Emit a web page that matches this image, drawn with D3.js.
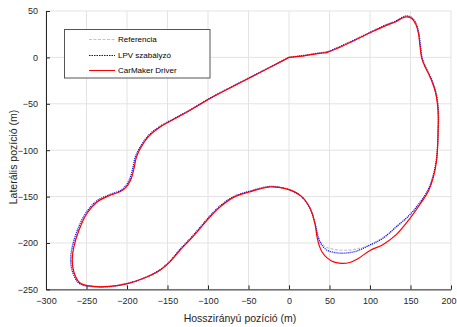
<!DOCTYPE html>
<html><head><meta charset="utf-8">
<script src="https://cdn.jsdelivr.net/npm/d3@7"></script>
<style>body{margin:0;background:#fff;} svg{display:block;font-family:"Liberation Sans",Arial,sans-serif;}</style>
</head><body>
<svg id="c" width="457" height="327"></svg>
<script>
// Data (m)
const xTicks = [-300,-250,-200,-150,-100,-50,0,50,100,150,200];
const yTicks = [50,0,-50,-100,-150,-200,-250];
const seriesNames = ["Referencia","LPV szabályzó","CarMaker Driver"];

const refX = [0,20,38,47,60,80,100,120,132,140,146,152,157,160,161.7,164,168,172,177,181,183.5,184.3,184,183.6,182.3,178.2,172,161.7,149.4,133,116.4,100,83,68,55,45,39,35.5,32,26,15.7,0.4,-11,-23.5,-49,-69,-85,-97.5,-110,-122,-134.6,-147,-159.3,-180,-199.6,-221,-241.6,-258,-266,-268.3,-266.3,-260,-250,-237.4,-221,-208,-202,-196,-192,-189,-184,-174,-159.3,-142.8,-122,-97.5,-79,-50,0];
const refY = [0,2,4.4,5.5,10,18,26.5,34.5,38.5,42.5,44,42,35,25,13,-1,-10,-17,-27,-38,-52,-65,-80,-93,-110,-128,-143,-157,-170,-182.4,-194,-202,-206.5,-207.8,-206.8,-204,-199,-191,-178.8,-162.6,-150,-142.5,-140,-139.3,-144.7,-150.8,-160.8,-171.6,-184.2,-196,-207.5,-220,-229.1,-238,-243.4,-246.5,-246.5,-243,-231,-218,-204,-186,-168,-155.5,-148.3,-144,-140,-132,-120,-108,-98,-85.4,-74.7,-66.7,-56.7,-44,-35.5,-22.5,0];

const lpvX = [0,20,38,47,60,80,100,120,132,140,146,152,157.5,160.5,162.2,164.5,168.5,172.5,177.5,181.5,184,184.6,184.2,183.6,182,177.8,171.5,161,148.8,132.5,116,100,83.6,67,55,46.5,40,36.5,32.5,26,15.7,0.4,-11,-23.5,-49,-69,-85.5,-98,-110.5,-122.5,-135,-147.5,-159.8,-180.5,-200,-221,-242,-259,-267.3,-269.6,-267.6,-261.2,-251,-238,-221.5,-208.5,-202.8,-197,-193,-190,-184.5,-174.5,-159.5,-143,-122,-97.5,-79,-50,0];
const lpvY = [0,2.4,4.9,6,10.6,18.6,27,35.2,39.3,43.3,44.8,42.6,35.2,25,13,-1,-10,-17,-27,-38,-52,-65,-80,-93,-110,-128,-143,-157,-169.8,-182.4,-194.9,-202.2,-208.6,-211,-210,-207.5,-201.5,-195,-180,-163,-150.3,-142.8,-140,-139,-144.2,-150.3,-160.3,-171.2,-183.8,-195.6,-207.2,-220,-229.2,-238.3,-243.8,-247,-247,-243.5,-231,-218,-204,-186,-167.8,-155,-147.8,-143.6,-139.6,-131.6,-120,-108,-97.8,-85,-74.4,-66.4,-56.5,-43.8,-35.3,-22.3,0];

const cmX = [0,20,38,47,60,80,100,120,132,140,146,152,157,160,161.7,164,168,172,177,181,183.5,184.3,184,183.6,182.3,178.4,172.3,162,149.4,133,116.4,100,85,75,65,55,47,41,37,34.5,32,26,15.7,0.4,-11,-23.5,-49,-69,-85,-97.5,-110,-122,-134.6,-147,-159.3,-180,-199.6,-221,-241.6,-258,-265.6,-267.6,-265.6,-259.3,-249.5,-237,-220.6,-207.6,-201.6,-195.6,-191.5,-188.6,-183.6,-173.8,-159.2,-142.7,-122,-97.5,-79,-50,0];
const cmY = [0,2,4.4,5.5,10,18,26.5,34.5,38.5,42.5,43.6,41.6,35,25,13,-1,-10,-17,-27,-38,-52,-65,-80,-93,-110,-128.5,-143.6,-158,-173.4,-190.5,-201.5,-208,-217,-221,-222,-220.3,-216,-210,-202,-193,-178.8,-162.6,-150,-142.5,-140.3,-139.6,-145,-151.1,-161.1,-171.9,-184.5,-196.3,-207.8,-220.3,-229.4,-238.3,-243.8,-246.8,-246.8,-243.2,-231.2,-218.3,-204.2,-186.2,-168.2,-155.8,-148.6,-144.3,-140.3,-132.3,-120.2,-108.2,-98.2,-85.6,-74.9,-66.9,-56.9,-44.2,-35.7,-22.7,0];

const m = {left:46, right:451, top:11, bottom:289.4};
const svg = d3.select("#c");
const x = d3.scaleLinear().domain([-300,200]).range([m.left,m.right]);
const y = d3.scaleLinear().domain([-250,50]).range([m.bottom,m.top]);

// grid
const g = svg.append("g");
g.selectAll(".gx").data(xTicks).enter().append("line")
  .attr("x1",d=>x(d)).attr("x2",d=>x(d)).attr("y1",m.top).attr("y2",m.bottom)
  .attr("stroke","#e3e3e3").attr("stroke-width",1);
g.selectAll(".gy").data(yTicks).enter().append("line")
  .attr("y1",d=>y(d)).attr("y2",d=>y(d)).attr("x1",m.left).attr("x2",m.right)
  .attr("stroke","#e3e3e3").attr("stroke-width",1);

// axes
const xAxis = d3.axisBottom(x).tickValues(xTicks).tickSizeInner(-4).tickSizeOuter(0).tickPadding(8).tickFormat(d3.format("d"));
const yAxis = d3.axisLeft(y).tickValues(yTicks).tickSizeInner(-4).tickSizeOuter(0).tickPadding(8).tickFormat(d3.format("d"));
const ax = svg.append("g").attr("transform",`translate(0,${m.bottom})`).call(xAxis);
const ay = svg.append("g").attr("transform",`translate(${m.left},0)`).call(yAxis);
[ax,ay].forEach(a=>{
  a.select(".domain").attr("stroke","#262626").attr("stroke-width",1);
  a.selectAll(".tick line").attr("stroke","#262626");
  a.selectAll(".tick text").attr("fill","#262626").style("font-size","9px").style("font-family","Liberation Sans, Arial, sans-serif");
});
// keep the last x tick label inside the window
ax.selectAll(".tick text").filter(d=>d===200).attr("dx","-2.5");

// lines
const line = d3.line().x(d=>x(d[0])).y(d=>y(d[1])).curve(d3.curveCatmullRom.alpha(0.5));
const zip = (a,b)=>a.map((v,i)=>[v,b[i]]);
const styles = [
  {c:"#c4c4c4", w:1.2, dash:"3,1.5"},
  {c:"#0000ff", w:1.3, dash:"1,1"},
  {c:"#ff0000", w:1.2, dash:null}
];
const data = [zip(refX,refY), zip(lpvX,lpvY), zip(cmX,cmY)];
data.forEach((d,i)=>{
  svg.append("path").datum(d).attr("d",line).attr("fill","none")
    .attr("stroke",styles[i].c).attr("stroke-width",styles[i].w)
    .attr("stroke-dasharray",styles[i].dash);
});

// legend
const lg = svg.append("g");
lg.append("rect").attr("x",64.5).attr("y",29.5).attr("width",145.5).attr("height",48.5)
  .attr("fill","#fff").attr("stroke","#555").attr("stroke-width",1);
const legY = [39.5, 55.5, 70.5];
seriesNames.forEach((n,i)=>{
  const yy = legY[i];
  lg.append("line").attr("x1",89).attr("x2",115).attr("y1",yy).attr("y2",yy)
    .attr("stroke",styles[i].c).attr("stroke-width",1).attr("stroke-dasharray",i===1?"1.5,1":styles[i].dash);
  lg.append("text").attr("x",118).attr("y",yy).attr("dy","0.35em").text(n)
    .style("font-size","8px").attr("fill","#000");
});

// axis labels
svg.append("text").attr("x",240).attr("y",322).attr("text-anchor","middle")
  .style("font-size","10.5px").attr("fill","#262626").text("Hosszirányú pozíció (m)");
svg.append("text").attr("transform","translate(17,157) rotate(-90)").attr("text-anchor","middle")
  .style("font-size","10.5px").attr("fill","#262626").text("Laterális pozíció (m)");
</script>
</body></html>
